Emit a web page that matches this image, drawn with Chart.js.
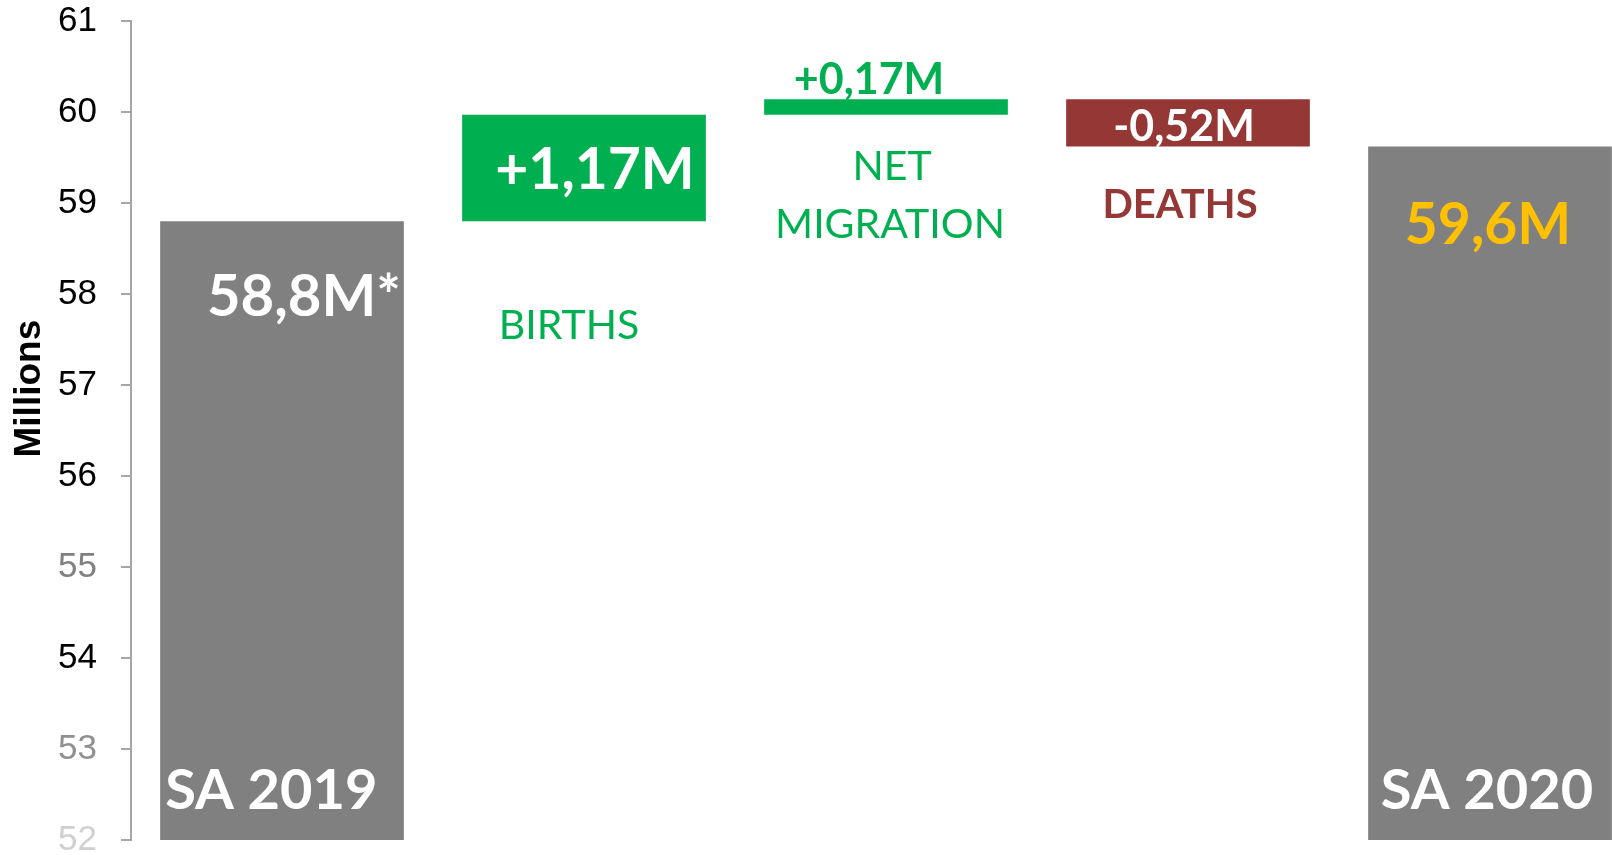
<!DOCTYPE html>
<html>
<head>
<meta charset="utf-8">
<title>SA population 2019 - 2020</title>
<script src="https://cdn.jsdelivr.net/npm/chart.js@4.4.1/dist/chart.umd.min.js"></script>
<style>
  html, body { margin: 0; padding: 0; background: #fff; overflow: hidden; }
  #wrap { width: 1642px; height: 855px; position: relative; }
</style>
</head>
<body>
<div id="wrap"><canvas id="popChart"></canvas></div>
<script>
// chart data
const categories = ['SA 2019', 'BIRTHS', 'NET MIGRATION', 'DEATHS', 'SA 2020'];
const barStart = [52, 58.8, 59.97, 59.62, 52];
const barEnd = [58.8, 59.97, 60.14, 60.14, 59.62];
const valueLabels = ['58,8M*', '+1,17M', '+0,17M', '-0,52M', '59,6M'];
const barColors = ['#808080', '#00b050', '#00b050', '#953735', '#808080'];
const yTicks = [52, 53, 54, 55, 56, 57, 58, 59, 60, 61];

const GREEN = '#00b050';
const RED = '#953735';
const FONT = 'Lato, "Open Sans", sans-serif';

// label colours on the axis are faded on a few ticks in the original
function tickColor(v) {
    if (v === 55) return '#808080';
    if (v === 53) return '#909090';
    if (v === 52) return '#d0d0d0';
    return '#000';
}

function text(ctx, str, x, y, font, color, align) {
    ctx.font = font;
    ctx.fillStyle = color;
    ctx.textAlign = align || 'center';
    ctx.textBaseline = 'middle';
    ctx.fillText(str, x, y);
}

// draws the value / category texts next to each bar
const barTexts = {
    id: 'barTexts',
    afterDatasetsDraw(chart) {
        const ctx = chart.ctx;
        const bars = chart.getDatasetMeta(0).data;
        ctx.save();
        bars.forEach((bar, i) => {
            const left = bar.x - bar.width / 2;
            const right = bar.x + bar.width / 2;
            const top = Math.min(bar.y, bar.base);
            const bottom = Math.max(bar.y, bar.base);
            if (i === 0) {
                text(ctx, valueLabels[i], right - 3, top + 76, 'bold 58px ' + FONT, '#fff', 'right');
                text(ctx, categories[i], left + 5, bottom - 49, 'bold 56px ' + FONT, '#fff', 'left');
            } else if (i === 1) {
                text(ctx, valueLabels[i], bar.x + 11, top + 56, 'bold 57px ' + FONT, '#fff');
                text(ctx, categories[i], bar.x - 15, bottom + 105, '41px ' + FONT, GREEN);
            } else if (i === 2) {
                text(ctx, valueLabels[i], bar.x - 17, top - 19, 'bold 43px ' + FONT, GREEN);
                text(ctx, 'NET', bar.x + 6, bottom + 52, '41px ' + FONT, GREEN);
                text(ctx, 'MIGRATION', bar.x + 4, bottom + 110, '41px ' + FONT, GREEN);
            } else if (i === 3) {
                text(ctx, valueLabels[i], bar.x - 4, top + 28, 'bold 43px ' + FONT, '#fff');
                text(ctx, categories[i], bar.x - 8, bottom + 59, 'bold 40px ' + FONT, RED);
            } else {
                text(ctx, valueLabels[i], bar.x - 2, top + 79, 'bold 57px ' + FONT, '#ffc000');
                text(ctx, categories[i], bar.x - 3, bottom - 49, 'bold 56px ' + FONT, '#fff');
            }
        });
        ctx.restore();
    }
};

// axis title sits a bit above the middle in the original
const axisTitle = {
    id: 'axisTitle',
    afterDraw(chart) {
        const ctx = chart.ctx;
        const y = chart.scales.y;
        ctx.save();
        ctx.translate(30, y.getPixelForValue(56.96));
        ctx.rotate(-Math.PI / 2);
        text(ctx, 'Millions', 0, 0, 'bold 37px "Liberation Sans", Arial, sans-serif', '#000');
        ctx.restore();
    }
};

new Chart(document.getElementById('popChart'), {
    type: 'bar',
    data: {
        labels: categories,
        datasets: [{
            data: barStart.map((s, i) => [s, barEnd[i]]),
            backgroundColor: barColors,
            borderWidth: 0,
            barPercentage: 0.807,
            categoryPercentage: 1
        }]
    },
    options: {
        responsive: true,
        maintainAspectRatio: false,
        animation: false,
        layout: { padding: { top: 21, bottom: 15, left: 58, right: 1 } },
        plugins: {
            legend: { display: false },
            tooltip: { enabled: false }
        },
        scales: {
            x: { display: false },
            y: {
                min: 52,
                max: 61,
                afterBuildTicks: (s) => { s.ticks = yTicks.map(v => ({ value: v })); },
                afterFit: (s) => { s.width = 73; },
                border: { display: true, color: '#a6a6a6', width: 2 },
                grid: { drawOnChartArea: false, drawTicks: true, tickLength: 10, color: '#a6a6a6', lineWidth: 2 },
                ticks: {
                    padding: 0,
                    crossAlign: 'far',
                    font: { family: '"Liberation Sans", Arial, sans-serif', size: 35, lineHeight: 0.85 },
                    color: (c) => tickColor(c.tick.value)
                }
            }
        }
    },
    plugins: [barTexts, axisTitle]
});
</script>
</body>
</html>
